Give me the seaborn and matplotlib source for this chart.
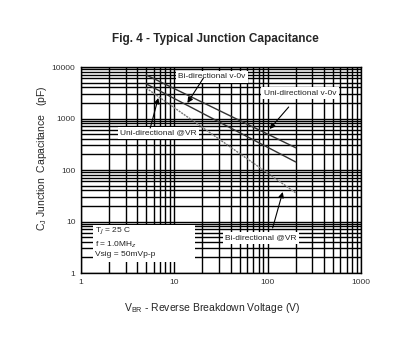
import numpy as np
import pandas as pd
import matplotlib
matplotlib.use("Agg")
import matplotlib.pyplot as plt
import seaborn as sns
from matplotlib.patches import Rectangle
from matplotlib.ticker import LogLocator, NullFormatter, FixedLocator, FixedFormatter

### Data
series = ["Bi-directional v-0v", "Uni-directional v-0v", "Uni-directional @VR"]
vbr_start = [5, 5, 5]
vbr_end = [200, 200, 200]
cap_start = [7000, 4700, 3900]
cap_end = [270, 143, 36]

x_ticks = [1, 10, 100, 1000]
y_ticks = [1, 10, 100, 1000, 10000]

# callouts: label, text pos, arrow tail, arrow head (data units)
labels = ["Bi-directional v-0v", "Uni-directional v-0v", "Uni-directional @VR", "Bi-directional @VR"]
label_pos = [(11.0, 6400), (90.6, 3125), (2.62, 525), (35.3, 4.78)]
arrow_tail = [(20.5, 6110), (168, 1672), (5.52, 654), (113, 7.48)]
arrow_head = [(13.8, 2000), (105, 625), (6.73, 2500), (145, 37.4)]

rows = []
for s, x0, x1, y0, y1 in zip(series, vbr_start, vbr_end, cap_start, cap_end):
    rows.append((s, x0, y0))
    rows.append((s, x1, y1))
df = pd.DataFrame(rows, columns=["series", "vbr", "cap"])

sns.set_style("white")
plt.rcParams['font.family'] = ['Liberation Sans', 'DejaVu Sans']

fig = plt.figure(figsize=(4.08, 3.54), dpi=100)
ax = fig.add_axes([81/408, 1-273/354, 280/408, 206/354])

ax.set_xscale("log")
ax.set_yscale("log")
ax.set_xlim(1, 1000)
ax.set_ylim(1, 10000)

ax.xaxis.set_major_locator(FixedLocator(x_ticks))
ax.xaxis.set_major_formatter(FixedFormatter([str(v) for v in x_ticks]))
ax.yaxis.set_major_locator(FixedLocator(y_ticks))
ax.yaxis.set_major_formatter(FixedFormatter([str(v) for v in y_ticks]))
ax.xaxis.set_minor_locator(LogLocator(base=10, subs=np.arange(2, 10)))
ax.yaxis.set_minor_locator(LogLocator(base=10, subs=np.arange(2, 10)))
ax.xaxis.set_minor_formatter(NullFormatter())
ax.yaxis.set_minor_formatter(NullFormatter())
ax.grid(True, which="both", color="black", linewidth=1.0)
ax.tick_params(which="both", length=0, labelsize=6, colors="#333333", pad=4)
for sp in ax.spines.values():
    sp.set_color("black")
    sp.set_linewidth(1.0)

sns.lineplot(data=df, x="vbr", y="cap", hue="series", style="series",
             palette={series[0]: "#333333", series[1]: "#333333", series[2]: "#777777"},
             dashes={series[0]: "", series[1]: "", series[2]: (1.5, 0.7)},
             linewidth=1.0, legend=False, ax=ax, zorder=3)
ax.set_xlabel("")
ax.set_ylabel("")

box = dict(boxstyle="square,pad=0.3", fc="white", ec="none")
for lab, pos in zip(labels, label_pos):
    ax.text(pos[0], pos[1], lab, fontsize=6, color="#222222", va="center",
            ha="left", zorder=5, bbox=box)
for tail, head in zip(arrow_tail, arrow_head):
    ax.annotate("", xy=head, xytext=tail, zorder=6,
                arrowprops=dict(arrowstyle="-|>", color="black", lw=0.8,
                                mutation_scale=8, shrinkA=0, shrinkB=0))

# test-condition box
ax.add_patch(Rectangle((0.043, 0.053), 0.364, 0.18, transform=ax.transAxes,
                       fc="white", ec="none", zorder=4))
ax.text(1.41, 4.0, "T$_J$ = 25 C\nf = 1.0MH$_z$\nVsig = 50mVp-p", fontsize=6,
        color="#222222", va="center", ha="left", linespacing=1.3, zorder=5)

fig.text(215/408, 1-39/354, "Fig. 4 - Typical Junction Capacitance",
         ha="center", va="center", fontsize=8.5, fontweight="bold")
fig.text(212/408, 1-308/354, "V$_{\\mathregular{BR}}$ - Reverse Breakdown Voltage (V)",
         ha="center", va="center", fontsize=7.5)
fig.text(42/408, 1-158/354, "C$_{\\mathregular{J}}$ Junction  Capacitance   (pF)",
         ha="center", va="center", fontsize=7.5, rotation=90)

fig.savefig("out.png", dpi=100)
